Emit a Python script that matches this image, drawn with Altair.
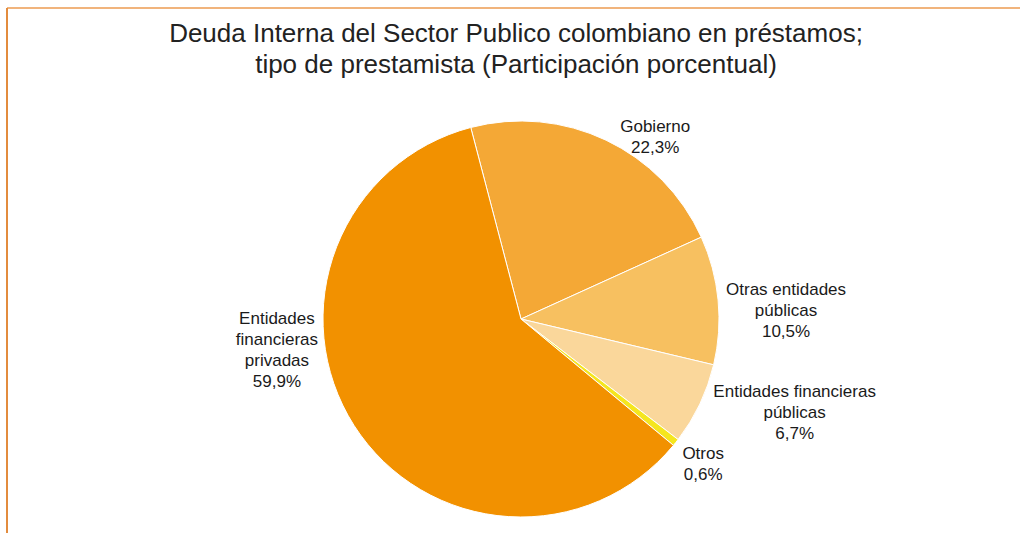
import math
import altair as alt
import pandas as pd

categories = ["Gobierno", "Otras entidades públicas", "Entidades financieras públicas",
              "Otros", "Entidades financieras privadas"]
values = [22.3, 10.5, 6.7, 0.6, 59.9]
label_lines = [["Gobierno", "22,3%"],
               ["Otras entidades", "públicas", "10,5%"],
               ["Entidades financieras", "públicas", "6,7%"],
               ["Otros", "0,6%"],
               ["Entidades", "financieras", "privadas", "59,9%"]]
colors = ["#F4A836", "#F7C060", "#FAD79B", "#F5E61E", "#F29100"]

df = pd.DataFrame({
    "cat": categories,
    "value": values,
    "idx": list(range(len(categories))),
    "label": ["\n".join(l) for l in label_lines],
})

start = math.radians(-14.7)
theta_scale = alt.Scale(domain=[0, 100], range=[start, start + 2 * math.pi])
CX, CY, R = 521, 239, 198

base = alt.Chart(df)

top_line = alt.Chart(df).mark_rule(color="#F0B47C", strokeWidth=1.5).encode(
    x=alt.value(7), x2=alt.value(1020), y=alt.value(-72)
)
left_line = alt.Chart(df).mark_rule(color="#E38C3F", strokeWidth=1.5).encode(
    x=alt.value(7), y=alt.value(-72), y2=alt.value(460)
)

pie = base.mark_arc(outerRadius=R, stroke="white", strokeWidth=1).encode(
    theta=alt.Theta("value:Q", stack=True, scale=theta_scale),
    order=alt.Order("idx:Q", sort="ascending"),
    color=alt.Color("cat:N", scale=alt.Scale(domain=categories, range=colors), legend=None),
    x=alt.value(CX), y=alt.value(CY),
)

offsets = {
    "Gobierno": (44, -2),
    "Otras entidades públicas": (56, -9),
    "Entidades financieras públicas": (84, -17),
    "Otros": (18, 4),
    "Entidades financieras privadas": (-67, -113),
}

layers = [top_line, left_line, pie]
for c in categories:
    dx, dy = offsets[c]
    t = base.transform_window(
        cum="sum(value)", sort=[alt.SortField("idx", order="ascending")]
    ).transform_calculate(
        mid="datum.cum - datum.value / 2"
    ).transform_filter(
        alt.datum.cat == c
    ).mark_text(
        font="Liberation Sans", fontSize=17, color="#1a1a1a", lineBreak="\n",
        lineHeight=21, align="center", baseline="middle", dx=dx, dy=dy,
    ).encode(
        theta=alt.Theta("mid:Q", stack=None, scale=theta_scale),
        radius=alt.value(210),
        text="label:N",
        x=alt.value(CX), y=alt.value(CY),
    )
    layers.append(t)

chart = alt.layer(*layers).properties(
    width=1020, height=453,
    padding={"top": 80, "left": 0, "right": 0, "bottom": 0},
    autosize=alt.AutoSizeParams(type="none"),
    background="white",
    title=alt.TitleParams(
        ["Deuda Interna del Sector Publico colombiano en préstamos;",
         "tipo de prestamista (Participación porcentual)"],
        font="Liberation Sans", fontSize=26, fontWeight="normal", color="#222222",
        anchor="middle", frame="group", lineHeight=31, baseline="alphabetic",
        offset=-92, dx=6,
    ),
).configure_view(stroke=None)

chart.save("out.html", embed_options={"renderer": "svg", "actions": False})
